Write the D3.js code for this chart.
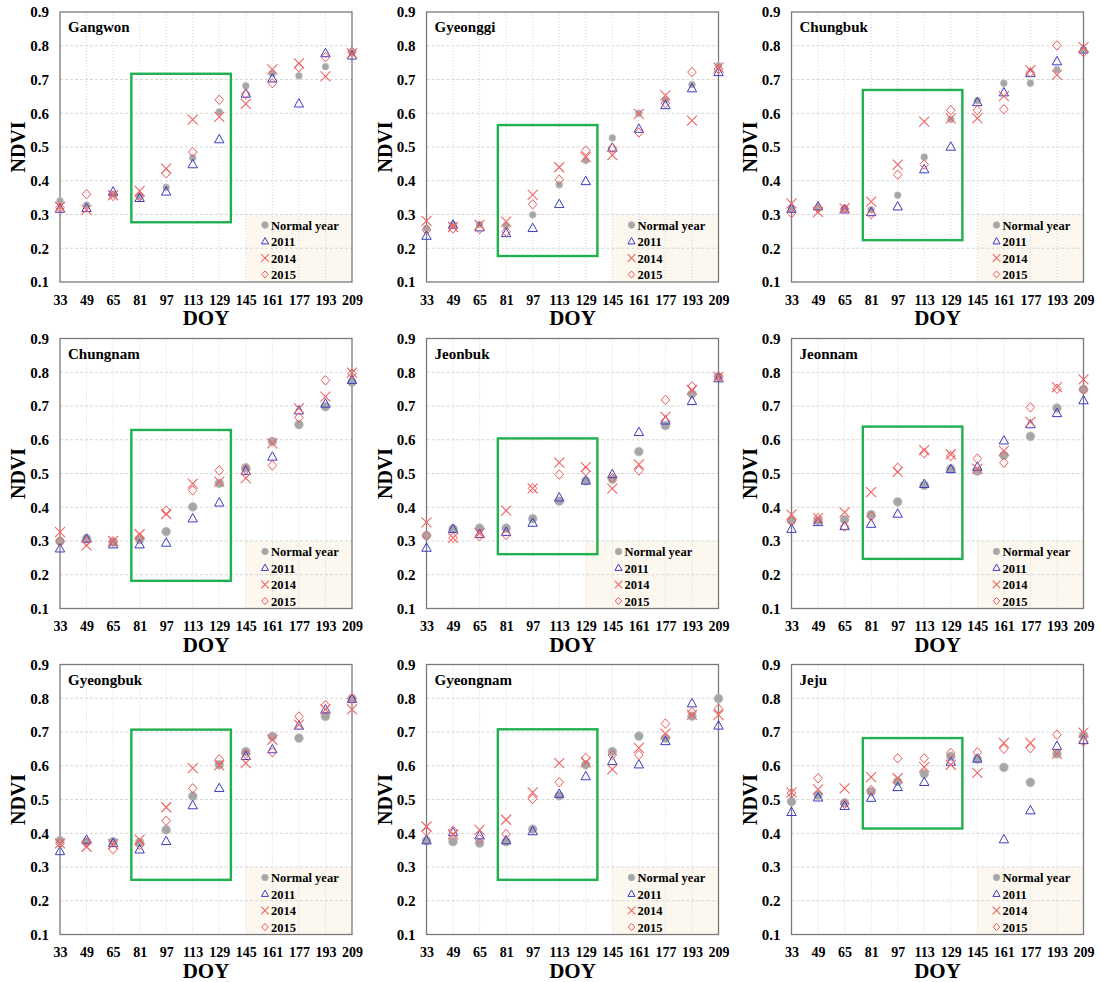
<!DOCTYPE html>
<html>
<head>
<meta charset="utf-8">
<script src="https://cdn.jsdelivr.net/npm/d3@7"></script>
<style>
  body { margin: 0; background: #fff; }
  text { font-family: "Liberation Serif", "Times New Roman", serif; font-weight: bold; fill: #000; }
</style>
</head>
<body>
<svg id="chart"></svg>
<script>
// DOY categories and axis ticks
const doy = [33, 49, 65, 81, 97, 113, 129, 145, 161, 177, 193, 209];
const ndviTicks = [0.1, 0.2, 0.3, 0.4, 0.5, 0.6, 0.7, 0.8, 0.9];
const seriesNames = ['Normal year', '2011', '2014', '2015'];
const regionNames = ['Gangwon', 'Gyeonggi', 'Chungbuk', 'Chungnam', 'Jeonbuk', 'Jeonnam', 'Gyeongbuk', 'Gyeongnam', 'Jeju'];

// rows: Normal year, 2011, 2014, 2015
const gangwon = [
  [0.340, 0.328, 0.360, 0.352, 0.380, 0.468, 0.604, 0.681, 0.718, 0.711, 0.738, 0.780],
  [0.316, 0.318, 0.367, 0.348, 0.367, 0.448, 0.522, 0.657, 0.702, 0.628, 0.777, 0.770],
  [0.323, 0.314, 0.357, 0.370, 0.436, 0.581, 0.589, 0.628, 0.730, 0.748, 0.709, 0.777],
  [0.320, 0.360, 0.355, 0.353, 0.422, 0.485, 0.640, 0.657, 0.689, 0.736, 0.766, 0.782]
];
const gyeonggi = [
  [0.259, 0.270, 0.271, 0.267, 0.299, 0.388, 0.460, 0.527, 0.600, 0.640, 0.685, 0.741],
  [0.236, 0.269, 0.261, 0.244, 0.259, 0.330, 0.398, 0.497, 0.553, 0.623, 0.673, 0.721],
  [0.281, 0.263, 0.269, 0.279, 0.358, 0.440, 0.470, 0.476, 0.598, 0.653, 0.578, 0.735],
  [0.254, 0.259, 0.257, 0.249, 0.330, 0.403, 0.489, 0.497, 0.543, 0.630, 0.722, 0.731]
];
const chungbuk = [
  [0.317, 0.320, 0.317, 0.314, 0.357, 0.470, 0.582, 0.637, 0.689, 0.689, 0.729, 0.788],
  [0.316, 0.323, 0.314, 0.306, 0.323, 0.433, 0.500, 0.632, 0.661, 0.718, 0.753, 0.788],
  [0.333, 0.307, 0.318, 0.338, 0.448, 0.575, 0.585, 0.585, 0.651, 0.728, 0.714, 0.796],
  [0.304, 0.318, 0.317, 0.301, 0.418, 0.448, 0.609, 0.609, 0.612, 0.721, 0.801, 0.781]
];
const chungnam = [
  [0.299, 0.307, 0.296, 0.304, 0.328, 0.401, 0.471, 0.517, 0.595, 0.645, 0.698, 0.771],
  [0.277, 0.306, 0.289, 0.289, 0.294, 0.366, 0.413, 0.507, 0.549, 0.686, 0.706, 0.776],
  [0.326, 0.287, 0.300, 0.320, 0.380, 0.470, 0.476, 0.486, 0.589, 0.693, 0.728, 0.799],
  [0.299, 0.299, 0.299, 0.310, 0.390, 0.450, 0.509, 0.512, 0.524, 0.666, 0.776, 0.796]
];
const jeonbuk = [
  [0.316, 0.336, 0.338, 0.338, 0.366, 0.418, 0.478, 0.483, 0.565, 0.642, 0.736, 0.786],
  [0.279, 0.335, 0.320, 0.326, 0.353, 0.428, 0.478, 0.497, 0.622, 0.656, 0.714, 0.781],
  [0.355, 0.309, 0.323, 0.390, 0.456, 0.532, 0.519, 0.455, 0.527, 0.668, 0.748, 0.786],
  [0.316, 0.309, 0.314, 0.318, 0.456, 0.497, 0.507, 0.487, 0.509, 0.718, 0.758, 0.788]
];
const jeonnam = [
  [0.360, 0.360, 0.363, 0.378, 0.416, 0.465, 0.514, 0.507, 0.554, 0.610, 0.694, 0.749],
  [0.335, 0.355, 0.343, 0.350, 0.380, 0.468, 0.512, 0.519, 0.597, 0.645, 0.678, 0.716],
  [0.378, 0.368, 0.385, 0.445, 0.505, 0.569, 0.557, 0.514, 0.567, 0.653, 0.756, 0.779],
  [0.360, 0.368, 0.343, 0.373, 0.517, 0.560, 0.552, 0.544, 0.532, 0.696, 0.751, 0.748]
];
const gyeongbuk = [
  [0.378, 0.373, 0.375, 0.373, 0.410, 0.510, 0.603, 0.642, 0.687, 0.682, 0.746, 0.799],
  [0.346, 0.380, 0.370, 0.351, 0.376, 0.482, 0.533, 0.628, 0.648, 0.718, 0.766, 0.797],
  [0.370, 0.360, 0.368, 0.381, 0.477, 0.593, 0.601, 0.608, 0.677, 0.722, 0.767, 0.767],
  [0.370, 0.373, 0.353, 0.365, 0.437, 0.533, 0.619, 0.635, 0.640, 0.746, 0.779, 0.799]
];
const gyeongnam = [
  [0.378, 0.375, 0.371, 0.375, 0.412, 0.511, 0.603, 0.642, 0.688, 0.682, 0.747, 0.799],
  [0.378, 0.402, 0.393, 0.378, 0.405, 0.516, 0.568, 0.613, 0.603, 0.672, 0.784, 0.718],
  [0.420, 0.397, 0.410, 0.440, 0.521, 0.608, 0.611, 0.589, 0.653, 0.695, 0.751, 0.751],
  [0.405, 0.407, 0.382, 0.398, 0.502, 0.551, 0.623, 0.632, 0.632, 0.725, 0.759, 0.769]
];
const jeju = [
  [0.494, 0.513, 0.490, 0.523, 0.553, 0.576, 0.628, 0.620, 0.595, 0.551, 0.635, 0.690],
  [0.462, 0.505, 0.480, 0.504, 0.536, 0.551, 0.611, 0.620, 0.381, 0.467, 0.658, 0.675],
  [0.521, 0.530, 0.533, 0.566, 0.563, 0.596, 0.603, 0.579, 0.668, 0.668, 0.635, 0.698],
  [0.519, 0.563, 0.487, 0.528, 0.622, 0.622, 0.638, 0.640, 0.650, 0.652, 0.692, 0.672]
];
const regionData = [gangwon, gyeonggi, chungbuk, chungnam, jeonbuk, jeonnam, gyeongbuk, gyeongnam, jeju];

// green highlight boxes (DOY span and NDVI span per region)
const boxDoy = [76, 136];
const boxLow = [0.277, 0.177, 0.224, 0.182, 0.261, 0.247, 0.262, 0.262, 0.414];
const boxHigh = [0.717, 0.565, 0.669, 0.629, 0.604, 0.639, 0.707, 0.708, 0.682];
// DOY where the legend's shaded area starts
const legendDoy = [145, 145, 145, 145, 129, 145, 145, 145, 145];

const width = 1102;
const height = 982;
const plotW = 292;
const plotH = 270;
const colX = [60, 426.5, 791.5];
const rowY = [12, 338.5, 664.5];

const svg = d3.select('#chart')
  .attr('width', width)
  .attr('height', height);

const x = d3.scaleLinear().domain([33, 209]).range([0, plotW]);
const y = d3.scaleLinear().domain([0.1, 0.9]).range([plotH, 0]);

const styles = [
  { fill: '#a6a6a6', stroke: '#bdbdbd', width: 0.6 },
  { fill: 'none', stroke: '#3c3cc4', width: 1 },
  { fill: 'none', stroke: '#f06464', width: 1.1 },
  { fill: 'none', stroke: '#ee5a5a', width: 1 }
];

function markerPath(k, s) {
  if (k === 0) return d3.symbol(d3.symbolCircle, Math.PI * s * s)();
  if (k === 1) return `M0,${-5.2 * s / 4.5}L${4.7 * s / 4.5},${3.2 * s / 4.5}L${-4.7 * s / 4.5},${3.2 * s / 4.5}Z`;
  if (k === 2) { const a = 5 * s / 4.5; return `M${-a},${-a}L${a},${a}M${a},${-a}L${-a},${a}`; }
  const b = 4.3 * s / 4.5;
  return `M0,${-b * 1.1}L${b},0L0,${b * 1.1}L${-b},0Z`;
}

regionNames.forEach((name, i) => {
  const g = svg.append('g')
    .attr('transform', `translate(${colX[i % 3]}, ${rowY[Math.floor(i / 3)]})`);
  const rowIdx = Math.floor(i / 3);
  const dotR = rowIdx === 0 ? 3.4 : 4.4;

  // legend background
  g.append('rect')
    .attr('x', x(legendDoy[i]))
    .attr('y', y(0.3))
    .attr('width', plotW - x(legendDoy[i]))
    .attr('height', y(0.1) - y(0.3))
    .attr('fill', '#fcf8ef');

  // grid
  g.selectAll('.hgrid')
    .data(ndviTicks.slice(1, -1))
    .enter()
    .append('line')
    .attr('x1', 0).attr('x2', plotW)
    .attr('y1', d => y(d)).attr('y2', d => y(d))
    .attr('stroke', '#d6d6d6')
    .attr('stroke-dasharray', '3,2');

  g.selectAll('.vgrid')
    .data(doy.slice(1, -1))
    .enter()
    .append('line')
    .attr('x1', d => x(d)).attr('x2', d => x(d))
    .attr('y1', 0).attr('y2', plotH)
    .attr('stroke', '#d6d6d6')
    .attr('stroke-dasharray', '1,2');

  g.append('rect')
    .attr('width', plotW)
    .attr('height', plotH)
    .attr('fill', 'none')
    .attr('stroke', '#7a7a7a')
    .attr('stroke-width', 1.3);

  // axes
  const yAxis = d3.axisLeft(y).tickValues(ndviTicks).tickFormat(d3.format('.1f')).tickSize(0).tickPadding(11);
  const yg = g.append('g').call(yAxis);
  yg.select('.domain').remove();
  yg.selectAll('text').style('font-size', '15px').style('font-family', '"Liberation Serif", serif');

  const xAxis = d3.axisBottom(x).tickValues(doy).tickFormat(d3.format('d')).tickSize(0).tickPadding(13);
  const xg = g.append('g').attr('transform', `translate(0, ${plotH})`).call(xAxis);
  xg.select('.domain').remove();
  xg.selectAll('text').style('font-size', '14px').style('font-family', '"Liberation Serif", serif');

  g.append('text')
    .attr('x', plotW / 2)
    .attr('y', plotH + 43)
    .attr('text-anchor', 'middle')
    .style('font-size', '21px')
    .text('DOY');

  g.append('text')
    .attr('transform', `translate(-35, ${plotH / 2}) rotate(-90)`)
    .attr('text-anchor', 'middle')
    .style('font-size', '20px')
    .text('NDVI');

  g.append('text')
    .attr('x', 8)
    .attr('y', 20)
    .style('font-size', '15px')
    .text(name);

  // points
  regionData[i].forEach((vals, k) => {
    g.selectAll(`.s${k}`)
      .data(vals)
      .enter()
      .append('path')
      .attr('class', `s${k}`)
      .attr('transform', (d, j) => `translate(${x(doy[j])}, ${y(d)})`)
      .attr('d', markerPath(k, k === 0 ? dotR : 4.5))
      .attr('fill', styles[k].fill)
      .attr('stroke', styles[k].stroke)
      .attr('stroke-width', styles[k].width);
  });

  // green box
  g.append('rect')
    .attr('x', x(boxDoy[0]))
    .attr('y', y(boxHigh[i]))
    .attr('width', x(boxDoy[1]) - x(boxDoy[0]))
    .attr('height', y(boxLow[i]) - y(boxHigh[i]))
    .attr('fill', 'none')
    .attr('stroke', '#21b04f')
    .attr('stroke-width', 2.4);

  // legend
  const lx = legendDoy[i] === 145 ? 205 : 192;
  const legend = g.append('g').attr('transform', `translate(${lx}, 0)`);
  seriesNames.forEach((s, k) => {
    const ly = 213 + k * 16.5;
    legend.append('path')
      .attr('transform', `translate(0, ${ly})`)
      .attr('d', markerPath(k, 3.4))
      .attr('fill', styles[k].fill)
      .attr('stroke', styles[k].stroke)
      .attr('stroke-width', styles[k].width);
    legend.append('text')
      .attr('x', 6)
      .attr('y', ly + 4.5)
      .style('font-size', '12.5px')
      .text(s);
  });
});
</script>
</body>
</html>
